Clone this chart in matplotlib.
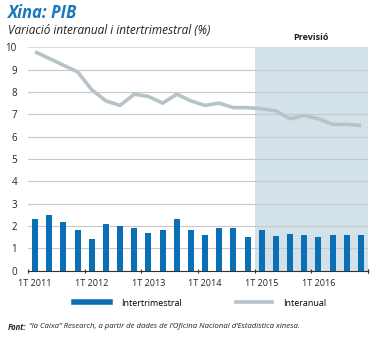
import numpy as np
import matplotlib.pyplot as plt
from matplotlib.lines import Line2D

plt.rcParams['font.family'] = ['Liberation Sans Narrow', 'Open Sans', 'DejaVu Sans']

# Data (2011 Q1 .. 2016 Q4)
quarters = [f"{q}T {y}" for y in range(2011, 2017) for q in range(1, 5)]
intertrimestral = [2.3, 2.5, 2.2, 1.8, 1.4, 2.1, 2.0, 1.9, 1.7, 1.8, 2.3, 1.8,
                   1.6, 1.9, 1.9, 1.5, 1.8, 1.55, 1.65, 1.6, 1.5, 1.6, 1.6, 1.6]
interanual = [9.8, 9.5, 9.2, 8.9, 8.1, 7.6, 7.4, 7.9, 7.8, 7.5, 7.9, 7.6,
              7.4, 7.5, 7.3, 7.3, 7.25, 7.15, 6.8, 6.95, 6.8, 6.55, 6.55, 6.5]
year_labels = ["1T 2011", "1T 2012", "1T 2013", "1T 2014", "1T 2015", "1T 2016"]
forecast_start = "1T 2015"

blue = '#0b6fb6'
grey_line = '#b7c3c9'
shade = '#d3e1e9'
title_blue = '#1c78bd'

fig = plt.figure(figsize=(3.77, 3.38), dpi=100)
ax = fig.add_axes([28/377, 1 - 270.7/338, 340/377, (270.7 - 47.3)/338])

x = np.arange(len(quarters))
fs = quarters.index(forecast_start)

ax.axvspan(fs - 0.5, len(quarters) - 0.5, color=shade, zorder=0, lw=0)
for v in range(1, 11):
    ax.axhline(v, color='#dcdcdc' if v == 10 else '#c8c8c8', lw=0.8, zorder=1)

ax.bar(x, intertrimestral, width=0.42, color=blue, zorder=2)
ax.plot(x, interanual, color=grey_line, lw=2.6, zorder=3, solid_capstyle='butt')

ax.set_xlim(-0.5, len(quarters) - 0.5)
ax.set_ylim(0, 10)
ax.set_yticks(range(0, 11))
ax.tick_params(axis='y', length=0, labelsize=7, pad=8, colors='#222222')

# year boundary ticks, labels under the first quarter of each year
ax.set_xticks(np.arange(-0.5, len(quarters), 4).tolist() + [len(quarters) - 0.5])
ax.set_xticklabels([])
ax.tick_params(axis='x', length=3, width=0.8, direction='inout', color='#333333')
for lab in year_labels:
    ax.text(quarters.index(lab), -0.35, lab, ha='center', va='top', fontsize=6.5,
            color='#222222')

for s in ['top', 'right', 'left']:
    ax.spines[s].set_visible(False)
ax.spines['bottom'].set_color('#333333')
ax.spines['bottom'].set_linewidth(0.8)

ax.text((fs + len(quarters) - 1) / 2, 10.25, 'Previsió', ha='center', va='bottom',
        fontsize=6.5, fontweight='bold', color='#222222')

fig.text(8/377, 1 - 13/338, 'Xina: PIB', fontsize=12, fontweight='bold', fontstyle='italic',
         color=title_blue, va='center', ha='left')
fig.text(8/377, 1 - 31/338, 'Variació interanual i intertrimestral (%)', fontsize=8.5,
         fontstyle='italic', color='#222222', va='center', ha='left')

handles = [Line2D([], [], color=blue, lw=4), Line2D([], [], color=grey_line, lw=2.6)]
fig.legend(handles, ['Intertrimestral', 'Interanual'], loc='center',
           bbox_to_anchor=(0.53, 1 - 303/338), ncol=2, frameon=False, fontsize=6.5,
           handlelength=4, columnspacing=6, handletextpad=1.2)

t1 = fig.text(8/377, 1 - 327/338, 'Font:', fontsize=5.6, fontweight='bold', fontstyle='italic',
              color='#222222', va='center', ha='left')
ax.annotate(' “la Caixa” Research, a partir de dades de l’Oficina Nacional d’Estadística xinesa.',
            xy=(1, 0.5), xycoords=t1, va='center', ha='left', fontsize=5.6,
            fontstyle='italic', color='#222222', annotation_clip=False)

fig.savefig('out.png', dpi=100)
